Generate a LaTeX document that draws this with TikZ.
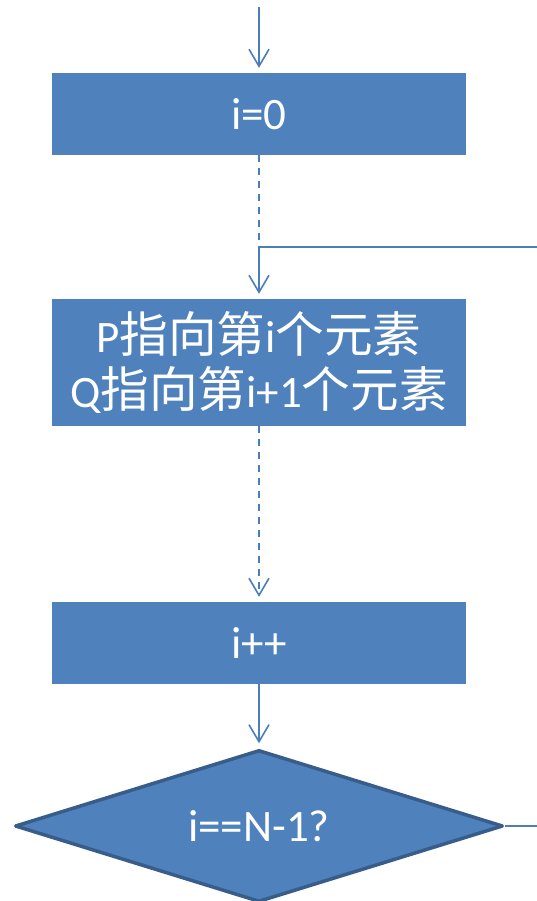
\documentclass[tikz,border=0pt]{standalone}
\usepackage{fontspec}
\setmainfont{Carlito}
\newfontfamily\cjk[Scale=1.08]{Noto Sans CJK SC}
\usetikzlibrary{arrows.meta,shapes.geometric}
\definecolor{boxfill}{HTML}{4F81BD}
\definecolor{linec}{HTML}{4A7EBB}
\definecolor{dborder}{HTML}{385D8A}
\tikzset{
  box/.style={rectangle, fill=boxfill, draw=none, minimum width=414pt, inner sep=0pt,
    text=white, align=center, font=\fontsize{45}{55}\selectfont},
  decision/.style={diamond, shape aspect=3.2, fill=boxfill, draw=dborder, line width=3.5pt, line join=round,
    minimum width=488pt, minimum height=152pt, inner sep=0pt,
    text=white, font=\fontsize{45}{55}\selectfont},
  conn/.style={draw=linec, line width=1.6pt},
  arr/.style={conn, -{Straight Barb[length=17pt, width=20pt, line width=1.6pt]}, shorten >=5pt},
  dashline/.style={dash pattern=on 7pt off 6pt}
}
\begin{document}
\begin{tikzpicture}[x=1pt, y=1pt]
\useasboundingbox (0,0) rectangle (537,-901);
\fill[white] (0,0) rectangle (537,-901);
\node[box, minimum height=82pt] (b1) at (259,-114) {i=0};
\node[box, minimum height=127pt] (b2) at (259,-362.5) {P{\cjk 指向第}i{\cjk 个元素}\\Q{\cjk 指向第}i+1{\cjk 个元素}};
\node[box, minimum height=82pt] (b3) at (259,-643) {i++};
\node[decision] (d) at (259,-826) {i==N-1?};
\coordinate (start) at (259,-7);
\coordinate (j) at (259,-247);
\coordinate (jr) at (537,-247);
\coordinate (dr) at (537,-826);
\draw[arr] (start) -- (b1.north);
\draw[conn, dashline] (b1.south) -- (j);
\draw[arr] (j) -- (b2.north);
\draw[conn] (j) -- (jr);
\draw[arr, dashline] (b2.south) -- (b3.north);
\draw[arr] (b3.south) -- (d.north);
\draw[conn] (d.east) -- (dr);
\end{tikzpicture}
\end{document}
